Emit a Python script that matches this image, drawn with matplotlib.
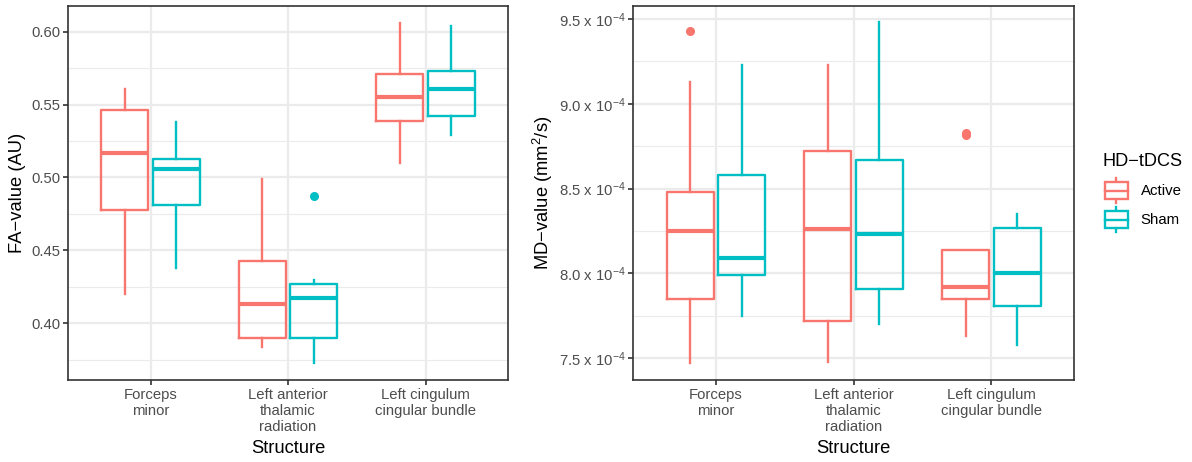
import numpy as np
import matplotlib
matplotlib.use('Agg')
import matplotlib.pyplot as plt
from matplotlib.legend_handler import HandlerBase
from matplotlib.lines import Line2D
from matplotlib.patches import Rectangle
from matplotlib.ticker import FixedLocator, FuncFormatter

plt.rcParams['font.family'] = ['Liberation Sans', 'DejaVu Sans']
plt.rcParams['mathtext.default'] = 'regular'

structures = ['Forceps\nminor', 'Left anterior\nthalamic\nradiation', 'Left cingulum\ncingular bundle']
groups = ['Active', 'Sham']
colours = ['#F8766D', '#00BFC4']

# box stats per structure: whisker low, q1, median, q3, whisker high
fa_active = [[0.420, 0.478, 0.517, 0.546, 0.561],
             [0.384, 0.390, 0.413, 0.443, 0.499],
             [0.510, 0.539, 0.555, 0.571, 0.606]]
fa_sham = [[0.438, 0.481, 0.506, 0.513, 0.538],
           [0.373, 0.390, 0.417, 0.427, 0.430],
           [0.529, 0.542, 0.561, 0.573, 0.604]]
fa_active_out = [[], [], []]
fa_sham_out = [[], [0.487], []]

# MD values in 1e-4 mm^2/s
md_active = [[7.47, 7.85, 8.25, 8.48, 9.13],
             [7.48, 7.72, 8.26, 8.72, 9.23],
             [7.63, 7.85, 7.92, 8.14, 8.14]]
md_sham = [[7.75, 7.99, 8.09, 8.58, 9.23],
           [7.70, 7.91, 8.23, 8.67, 9.48],
           [7.58, 7.81, 8.00, 8.27, 8.35]]
md_active_out = [[9.43], [], [8.83, 8.815]]
md_sham_out = [[], [], []]

TICK_FS = 10.7
TITLE_FS = 13.2


def make_stats(rows, outs, scale=1.0):
    stats = []
    for r, o in zip(rows, outs):
        stats.append({'whislo': r[0] * scale, 'q1': r[1] * scale, 'med': r[2] * scale,
                      'q3': r[3] * scale, 'whishi': r[4] * scale,
                      'fliers': np.array(o) * scale})
    return stats


def draw_boxes(ax, stats, pos, col):
    ax.bxp(stats, positions=pos, widths=0.34, showcaps=False, manage_ticks=False,
           boxprops=dict(color=col, linewidth=1.7),
           whiskerprops=dict(color=col, linewidth=1.7),
           medianprops=dict(color=col, linewidth=3.0, solid_capstyle='butt'),
           flierprops=dict(marker='o', markerfacecolor=col, markeredgecolor=col,
                           markersize=5.5, linestyle='none'))


def style_axes(ax, major, minor, ylim):
    ax.set_xlim(0.4, 3.6)
    ax.set_ylim(*ylim)
    ax.set_xticks([1, 2, 3])
    ax.set_xticklabels(structures, color='#4D4D4D', fontsize=TICK_FS, linespacing=1.2)
    ax.xaxis.set_minor_locator(FixedLocator([]))
    ax.yaxis.set_major_locator(FixedLocator(major))
    ax.yaxis.set_minor_locator(FixedLocator(minor))
    ax.grid(True, which='major', color='#EBEBEB', linewidth=1.6)
    ax.grid(True, which='minor', axis='y', color='#EBEBEB', linewidth=0.8)
    ax.set_axisbelow(True)
    ax.tick_params(which='major', direction='out', length=3.5, width=1.2, color='#333333',
                   labelcolor='#4D4D4D', labelsize=TICK_FS, pad=2)
    ax.tick_params(which='minor', length=0)
    for s in ax.spines.values():
        s.set_color('#333333')
        s.set_linewidth(1.2)
    ax.set_xlabel('Structure', fontsize=TITLE_FS, labelpad=4)


fig = plt.figure(figsize=(11.92, 4.62), dpi=100)
ax1 = fig.add_axes([0.0571, 0.1775, 0.3691, 0.8095])
ax2 = fig.add_axes([0.5313, 0.1775, 0.3697, 0.8095])

cats = np.arange(1, len(structures) + 1)
offsets = [-0.187, 0.187]

draw_boxes(ax1, make_stats(fa_active, fa_active_out), cats + offsets[0], colours[0])
draw_boxes(ax1, make_stats(fa_sham, fa_sham_out), cats + offsets[1], colours[1])
style_axes(ax1, [0.40, 0.45, 0.50, 0.55, 0.60], [0.375, 0.425, 0.475, 0.525, 0.575],
           (0.3611, 0.6176))
ax1.yaxis.set_major_formatter(FuncFormatter(lambda v, p: '%.2f' % v))
ax1.set_ylabel('FA\u2212value (AU)', fontsize=TITLE_FS, labelpad=4)

draw_boxes(ax2, make_stats(md_active, md_active_out, 1e-4), cats + offsets[0], colours[0])
draw_boxes(ax2, make_stats(md_sham, md_sham_out, 1e-4), cats + offsets[1], colours[1])
style_axes(ax2, [7.5e-4, 8.0e-4, 8.5e-4, 9.0e-4, 9.5e-4],
           [7.75e-4, 8.25e-4, 8.75e-4, 9.25e-4], (7.372e-4, 9.577e-4))
ax2.yaxis.set_major_formatter(FuncFormatter(lambda v, p: '%.1f x 10$^{\u22124}$' % (v * 1e4)))
ax2.set_ylabel('MD\u2212value (mm$^{2}$/s)', fontsize=TITLE_FS, labelpad=3)


class BoxKey(HandlerBase):
    def create_artists(self, legend, orig, xd, yd, w, h, fontsize, trans):
        col = orig.get_color()
        x0, y0 = -xd, -yd
        cx = x0 + w / 2
        box = Rectangle((x0, y0 + h * 0.17), w, h * 0.66,
                        facecolor='white', edgecolor=col, linewidth=1.7, transform=trans)
        med = Line2D([x0, x0 + w], [y0 + h / 2] * 2, color=col,
                     linewidth=1.7, transform=trans)
        up = Line2D([cx, cx], [y0 + h * 0.83, y0 + h], color=col, linewidth=1.7,
                    transform=trans)
        lo = Line2D([cx, cx], [y0, y0 + h * 0.17], color=col, linewidth=1.7,
                    transform=trans)
        return [up, lo, box, med]


fig.text(1103 / 1192, 1 - 165.7 / 462, 'HD\u2212tDCS', fontsize=13.1, va='baseline', ha='left')
handles = [Line2D([], [], color=c) for c in colours]
leg = fig.legend(handles, groups, loc='upper left',
                 bbox_to_anchor=(1105 / 1192, 1 - 178 / 462), frameon=False,
                 fontsize=10.8, borderpad=0, borderaxespad=0,
                 handlelength=1.53, handleheight=2.19,
                 handletextpad=0.85, labelspacing=0.27,
                 handler_map={Line2D: BoxKey()})

fig.savefig('out.png', dpi=100)
